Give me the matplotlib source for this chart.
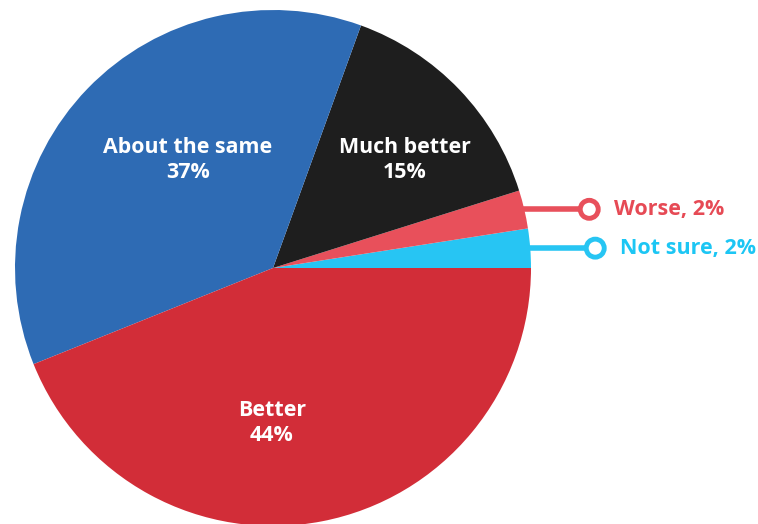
import numpy as np
import matplotlib.pyplot as plt
from matplotlib.patches import Circle

plt.rcParams['font.family'] = ['Open Sans', 'DejaVu Sans']

# Survey answers, counter-clockwise from 3 o'clock
answers = ["Not sure", "Worse", "Much better", "About the same", "Better"]
shares = [2.45, 2.4, 14.6, 36.6, 43.9]
colors = ["#27c5f3", "#e8505b", "#1e1e1e", "#2e6bb4", "#d22d38"]
outside = [True, True, False, False, False]
text_colors = ["#1cc6f4", "#e64a55", "white", "white", "white"]

# pixel-based canvas, y pointing up
W, H = 758, 524
cx, cy, r = 273, 256, 258

fig = plt.figure(figsize=(W / 100, H / 100), dpi=100)
ax = fig.add_axes([0, 0, 1, 1])

wedges, _ = ax.pie(shares, colors=colors, startangle=0, counterclock=True,
                   center=(cx, cy), radius=r, frame=True,
                   wedgeprops=dict(linewidth=0))
ax.set_xlim(0, W)
ax.set_ylim(0, H)
ax.set_aspect("equal")
ax.axis("off")

# inside label anchors (layout only)
inside_pos = {"Much better": (405, 364), "About the same": (188, 364), "Better": (272, 101)}

for w, name, val, out, tc in zip(wedges, answers, shares, outside, text_colors):
    label = f"{round(val)}%"
    if out:
        mid = np.deg2rad((w.theta1 + w.theta2) / 2)
        ex, ey = cx + r * np.cos(mid), cy + r * np.sin(mid)
        px = ex + 65
        ax.plot([ex - 4, px], [ey, ey], color=w.get_facecolor(), lw=4,
                solid_capstyle="butt", zorder=3)
        ax.add_patch(Circle((px, ey), 9, facecolor="white",
                            edgecolor=w.get_facecolor(), lw=3.5, zorder=4))
        ax.text(px + 25, ey, f"{name}, {label}", color=tc, fontsize=15.5,
                fontweight="bold", ha="left", va="center")
    else:
        x, y = inside_pos[name]
        ax.text(x, y, f"{name}\n{label}", color=tc, fontsize=15.4,
                fontweight="bold", ha="center", va="center", linespacing=1.3)

fig.savefig("out.png", dpi=100)
